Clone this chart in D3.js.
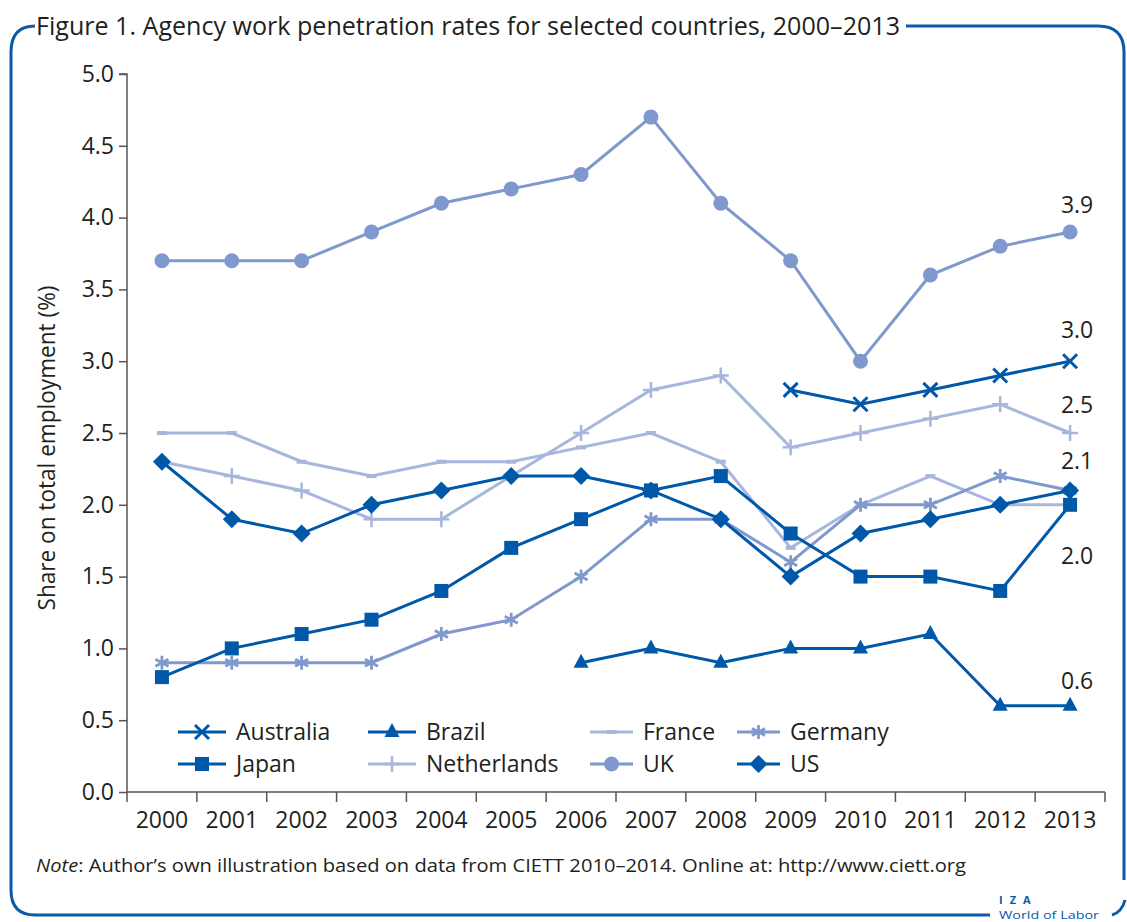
<!DOCTYPE html>
<html><head><meta charset="utf-8">
<script src="https://cdn.jsdelivr.net/npm/d3@7"></script>
<style>body{margin:0;background:#fff}svg{display:block}text{font-family:"Open Sans",Roboto,sans-serif;fill:#231f20}</style>
</head><body><svg id="c" width="1127" height="922"></svg>
<script>
const years = ["2000","2001","2002","2003","2004","2005","2006","2007","2008","2009","2010","2011","2012","2013"];
const yTicks = [0,0.5,1,1.5,2,2.5,3,3.5,4,4.5,5];
const australia = [null,null,null,null,null,null,null,null,null,2.8,2.7,2.8,2.9,3.0];
const brazil = [null,null,null,null,null,null,0.9,1.0,0.9,1.0,1.0,1.1,0.6,0.6];
const france = [2.5,2.5,2.3,2.2,2.3,2.3,2.4,2.5,2.3,1.7,2.0,2.2,2.0,2.0];
const germany = [0.9,0.9,0.9,0.9,1.1,1.2,1.5,1.9,1.9,1.6,2.0,2.0,2.2,2.1];
const japan = [0.8,1.0,1.1,1.2,1.4,1.7,1.9,2.1,2.2,1.8,1.5,1.5,1.4,2.0];
const netherlands = [2.3,2.2,2.1,1.9,1.9,2.2,2.5,2.8,2.9,2.4,2.5,2.6,2.7,2.5];
const uk = [3.7,3.7,3.7,3.9,4.1,4.2,4.3,4.7,4.1,3.7,3.0,3.6,3.8,3.9];
const us = [2.3,1.9,1.8,2.0,2.1,2.2,2.2,2.1,1.9,1.5,1.8,1.9,2.0,2.1];
const endLabels = ["3.9","3.0","2.5","2.1","2.0","0.6"];
const endLabelValues = [3.9,3.0,2.5,2.1,2.0,0.6];

const DARK="#0058a8", MID="#7f98cd", LIGHT="#a7b6dd", AXIS="#555";
const series = [
  {name:"Australia", data:australia, color:DARK, marker:"x"},
  {name:"Brazil", data:brazil, color:DARK, marker:"tri"},
  {name:"France", data:france, color:LIGHT, marker:"dash"},
  {name:"Germany", data:germany, color:MID, marker:"star"},
  {name:"Japan", data:japan, color:DARK, marker:"sq"},
  {name:"Netherlands", data:netherlands, color:LIGHT, marker:"plus"},
  {name:"UK", data:uk, color:MID, marker:"circ"},
  {name:"US", data:us, color:DARK, marker:"dia"}
];

const svg = d3.select("#c");
const x = d3.scaleBand().domain(years).range([127,1105]);
const y = d3.scaleLinear().domain([0,5]).range([792,74]);
const cx = yr => x(yr)+x.bandwidth()/2;

// frame
const fr = svg.append("g").attr("fill","none").attr("stroke","#0a5aa8").attr("stroke-width",3);
fr.append("path").attr("d","M35,26 Q11,26 11,52 L11,890 Q11,915 35,915 L990,915");
fr.append("path").attr("d","M906,26 L1098,26 Q1124,26 1124,52 L1124,880");
fr.append("path").attr("d","M1112,915 Q1122,912 1125,900");
svg.append("text").attr("x",36).attr("y",35).attr("font-size",25).attr("textLength",864).attr("lengthAdjust","spacingAndGlyphs")
  .text("Figure 1. Agency work penetration rates for selected countries, 2000–2013");

// axes
const ax = svg.append("g").attr("transform","translate(127,0)")
  .call(d3.axisLeft(y).tickValues(yTicks).tickFormat(d3.format(".1f")).tickSize(8).tickPadding(5));
ax.select(".domain").attr("d","M-8,74H0V792");
const bx = svg.append("g").attr("transform","translate(0,792)")
  .call(d3.axisBottom(x).tickSize(0).tickPadding(20));
bx.select(".domain").remove();
bx.append("line").attr("x1",127).attr("x2",1105).attr("stroke",AXIS).attr("stroke-width",1.5);
const bounds = years.map(v=>x(v)).concat([x.range()[1]]);
bx.selectAll(".bt").data(bounds).join("line").attr("x1",d=>d).attr("x2",d=>d).attr("y1",0).attr("y2",10).attr("stroke",AXIS).attr("stroke-width",1.5);
[ax,bx].forEach(g=>{g.selectAll(".tick line").attr("stroke",AXIS).attr("stroke-width",1.5);g.selectAll(".domain").attr("stroke",AXIS).attr("stroke-width",1.5);
  g.selectAll(".tick text").attr("font-size",23).attr("font-family","Open Sans").attr("fill","#231f20");});
svg.append("text").attr("transform","translate(55,448) rotate(-90)").attr("text-anchor","middle").attr("font-size",23)
  .attr("textLength",325).attr("lengthAdjust","spacingAndGlyphs").text("Share on total employment (%)");

function marker(g, type, color){
  if(type==="x") g.append("path").attr("d","M-7,-7L7,7M-7,7L7,-7").attr("stroke",color).attr("stroke-width",3);
  else if(type==="tri") g.append("path").attr("d","M0,-9L7.5,5L-7.5,5Z").attr("fill",color);
  else if(type==="dash") g.append("rect").attr("x",-5).attr("y",-2).attr("width",10).attr("height",4).attr("fill",color);
  else if(type==="star") g.append("path").attr("d","M0,-7V7M-6.5,-3.5L6.5,3.5M-6.5,3.5L6.5,-3.5").attr("stroke",color).attr("stroke-width",2.8);
  else if(type==="sq") g.append("rect").attr("x",-7).attr("y",-7).attr("width",14).attr("height",14).attr("fill",color);
  else if(type==="plus") g.append("path").attr("d","M0,-8V8M-8,0H8").attr("stroke",color).attr("stroke-width",2.5);
  else if(type==="circ") g.append("circle").attr("r",7.5).attr("fill",color);
  else if(type==="dia") g.append("path").attr("d","M0,-9L9,0L0,9L-9,0Z").attr("fill",color);
}

const line = d3.line().defined(d=>d.v!=null).x(d=>cx(d.yr)).y(d=>y(d.v));
series.forEach(s=>{
  const pts = years.map((yr,i)=>({yr, v:s.data[i]}));
  svg.append("path").datum(pts).attr("d",line).attr("fill","none").attr("stroke",s.color).attr("stroke-width",3);
  pts.filter(p=>p.v!=null).forEach(p=>{
    marker(svg.append("g").attr("transform",`translate(${cx(p.yr)},${y(p.v)})`), s.marker, s.color);
  });
});

// end labels
const offs = [-19,-23,-20,-21,59,-17];
endLabels.forEach((t,i)=>{
  svg.append("text").attr("x",cx("2013")+7).attr("y",y(endLabelValues[i])+offs[i]).attr("text-anchor","middle").attr("font-size",23).text(t);
});

// legend
const legPos = [[178,732],[368,732],[590,732],[737,732],[178,764],[368,764],[590,764],[737,764]];
series.forEach((s,i)=>{
  const [lx,ly] = legPos[i];
  const w = i%4<2 ? 48 : 43;
  const g = svg.append("g").attr("transform",`translate(${lx},${ly})`);
  g.append("line").attr("x1",0).attr("x2",w).attr("stroke",s.color).attr("stroke-width",3);
  marker(g.append("g").attr("transform",`translate(${w/2},0)`), s.marker, s.color);
  g.append("text").attr("x",w+10).attr("y",8).attr("font-size",23).text(s.name);
});

// note
const n = svg.append("text").attr("x",36).attr("y",872).attr("font-size",18).attr("textLength",930).attr("lengthAdjust","spacingAndGlyphs");
n.append("tspan").attr("font-style","italic").text("Note");
n.append("tspan").text(": Author’s own illustration based on data from CIETT 2010–2014. Online at: http://www.ciett.org");
svg.append("text").attr("x",999).attr("y",904).attr("font-size",11).attr("font-weight","bold").style("fill","#0a5aa8").attr("letter-spacing",7).text("IZA");
svg.append("text").attr("x",999).attr("y",918.5).attr("font-size",10).style("fill","#0a5aa8").attr("textLength",100).attr("lengthAdjust","spacingAndGlyphs").text("World of Labor");
</script></body></html>
